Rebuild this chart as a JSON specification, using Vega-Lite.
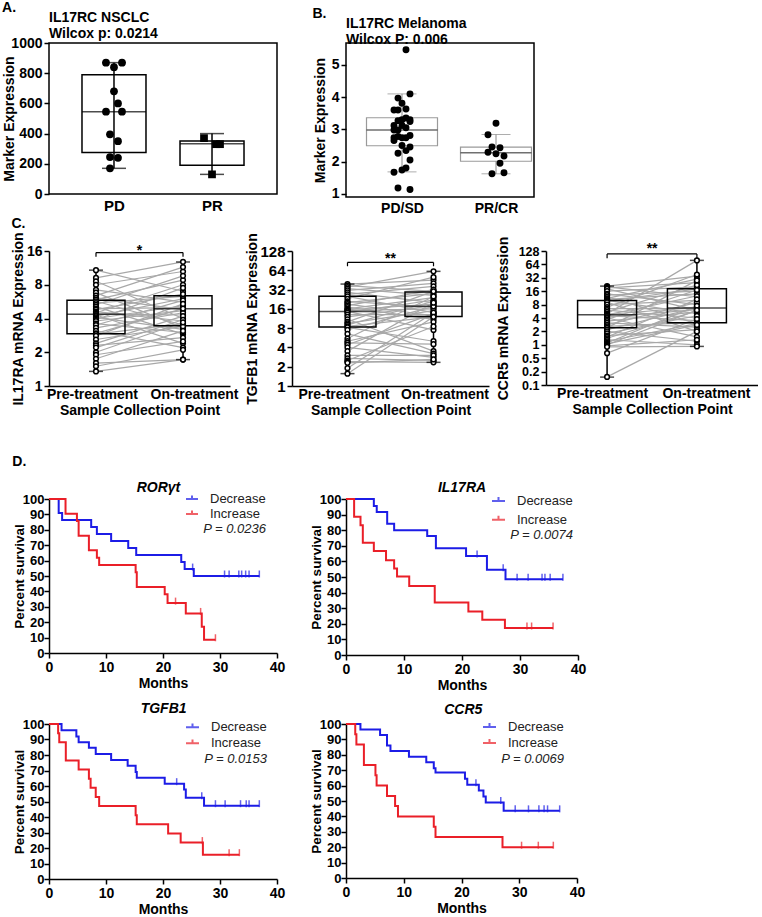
{
"$schema":"https://vega.github.io/schema/vega-lite/v6.json",
"background":"white",
"padding":{"left":2,"top":1,"right":0,"bottom":0},
"config":{
 "font":"Liberation Sans",
 "view":{"stroke":null},
 "axis":{"labelFont":"Liberation Sans","titleFont":"Liberation Sans","labelFontWeight":"bold","titleFontWeight":"bold","labelFontSize":14,"titleFontSize":14,"labelColor":"black","titleColor":"black","domainColor":"black","tickColor":"black","domainWidth":1.5,"tickWidth":1.5,"tickSize":5,"grid":false,"labelPadding":2,"titlePadding":4,"labelOverlap":false,"labelFlush":false},
 "title":{"font":"Liberation Sans","fontSize":14,"fontWeight":"bold","color":"black","subtitleFont":"Liberation Sans","subtitleFontSize":14,"subtitleFontWeight":"bold","subtitleColor":"black","subtitlePadding":2},
 "legend":{"labelFont":"Liberation Sans","titleFont":"Liberation Sans"}
},
"datasets":{
 "A_box":[{"g":"PD","q1":275,"med":545,"q3":790,"lo":170,"hi":870},{"g":"PR","q1":190,"med":333,"q3":351,"lo":130,"hi":400}],
 "A_pts":[{"g":"PD","v":350},{"g":"PD","v":395},{"g":"PD","v":870},{"g":"PD","v":840},{"g":"PD","v":870},{"g":"PD","v":240},{"g":"PD","v":245},{"g":"PD","v":545},{"g":"PD","v":680},{"g":"PD","v":545},{"g":"PD","v":600},{"g":"PD","v":170},{"g":"PR","v":330},{"g":"PR","v":130},{"g":"PR","v":370},{"g":"PR","v":330}],
 "B_box":[{"g":"PD/SD","q1":2.49,"med":2.98,"q3":3.36,"lo":1.68,"hi":4.1},{"g":"PR/CR","q1":2.01,"med":2.27,"q3":2.45,"lo":1.62,"hi":2.84}],
 "B_pts":[{"g":"PD/SD","v":5.47},{"g":"PD/SD","v":3.97},{"g":"PD/SD","v":4.10},{"g":"PD/SD","v":3.81},{"g":"PD/SD","v":3.60},{"g":"PD/SD","v":3.63},{"g":"PD/SD","v":3.60},{"g":"PD/SD","v":3.24},{"g":"PD/SD","v":3.12},{"g":"PD/SD","v":3.12},{"g":"PD/SD","v":3.35},{"g":"PD/SD","v":3.27},{"g":"PD/SD","v":3.30},{"g":"PD/SD","v":3.30},{"g":"PD/SD","v":2.98},{"g":"PD/SD","v":3.05},{"g":"PD/SD","v":2.98},{"g":"PD/SD","v":2.81},{"g":"PD/SD","v":2.74},{"g":"PD/SD","v":2.74},{"g":"PD/SD","v":2.74},{"g":"PD/SD","v":2.78},{"g":"PD/SD","v":2.45},{"g":"PD/SD","v":2.50},{"g":"PD/SD","v":2.65},{"g":"PD/SD","v":2.34},{"g":"PD/SD","v":2.26},{"g":"PD/SD","v":2.05},{"g":"PD/SD","v":1.74},{"g":"PD/SD","v":1.67},{"g":"PD/SD","v":1.80},{"g":"PD/SD","v":1.18},{"g":"PD/SD","v":1.13},{"g":"PR/CR","v":3.19},{"g":"PR/CR","v":2.83},{"g":"PR/CR","v":2.43},{"g":"PR/CR","v":2.45},{"g":"PR/CR","v":2.17},{"g":"PR/CR","v":2.24},{"g":"PR/CR","v":2.29},{"g":"PR/CR","v":1.95},{"g":"PR/CR","v":1.62},{"g":"PR/CR","v":1.65}],
 "C1_box":[{"t":"Pre-treatment","q1":2.93,"med":4.36,"q3":5.81,"lo":1.35,"hi":10.8},{"t":"On-treatment","q1":3.45,"med":4.89,"q3":6.39,"lo":1.72,"hi":12.77}],
 "C2_box":[{"t":"Pre-treatment","q1":8.3,"med":14.6,"q3":25.1,"lo":1.56,"hi":39},{"t":"On-treatment","q1":12.2,"med":17.5,"q3":29.3,"lo":2.34,"hi":61.6}],
 "C3_box":[{"t":"Pre-treatment","q1":2.41,"med":4.72,"q3":9.95,"lo":0.188,"hi":20.8},{"t":"On-treatment","q1":3.12,"med":6.67,"q3":18.1,"lo":0.92,"hi":78.8}],
 "C1":[{"id":1,"Pre-treatment":10.8,"On-treatment":7.0},{"id":2,"Pre-treatment":9.2,"On-treatment":12.8},{"id":3,"Pre-treatment":8.6,"On-treatment":4.0},{"id":4,"Pre-treatment":8.0,"On-treatment":10.5},{"id":5,"Pre-treatment":7.2,"On-treatment":5.6},{"id":6,"Pre-treatment":6.8,"On-treatment":3.3},{"id":7,"Pre-treatment":6.4,"On-treatment":11.5},{"id":8,"Pre-treatment":6.1,"On-treatment":4.8},{"id":9,"Pre-treatment":5.9,"On-treatment":8.8},{"id":10,"Pre-treatment":5.7,"On-treatment":3.5},{"id":11,"Pre-treatment":5.5,"On-treatment":6.3},{"id":12,"Pre-treatment":5.3,"On-treatment":9.6},{"id":13,"Pre-treatment":5.1,"On-treatment":2.9},{"id":14,"Pre-treatment":4.9,"On-treatment":5.0},{"id":15,"Pre-treatment":4.8,"On-treatment":6.6},{"id":16,"Pre-treatment":4.6,"On-treatment":3.8},{"id":17,"Pre-treatment":4.5,"On-treatment":8.0},{"id":18,"Pre-treatment":4.4,"On-treatment":4.3},{"id":19,"Pre-treatment":4.3,"On-treatment":2.4},{"id":20,"Pre-treatment":4.2,"On-treatment":6.0},{"id":21,"Pre-treatment":4.1,"On-treatment":3.2},{"id":22,"Pre-treatment":4.0,"On-treatment":5.2},{"id":23,"Pre-treatment":3.9,"On-treatment":7.5},{"id":24,"Pre-treatment":3.8,"On-treatment":4.7},{"id":25,"Pre-treatment":3.6,"On-treatment":3.0},{"id":26,"Pre-treatment":3.5,"On-treatment":5.8},{"id":27,"Pre-treatment":3.3,"On-treatment":4.5},{"id":28,"Pre-treatment":3.1,"On-treatment":2.2},{"id":29,"Pre-treatment":2.95,"On-treatment":4.9},{"id":30,"Pre-treatment":2.9,"On-treatment":3.6},{"id":31,"Pre-treatment":2.8,"On-treatment":5.4},{"id":32,"Pre-treatment":2.6,"On-treatment":3.4},{"id":33,"Pre-treatment":2.4,"On-treatment":4.2},{"id":34,"Pre-treatment":2.3,"On-treatment":2.7},{"id":35,"Pre-treatment":2.2,"On-treatment":3.9},{"id":36,"Pre-treatment":2.0,"On-treatment":3.7},{"id":37,"Pre-treatment":1.9,"On-treatment":2.5},{"id":38,"Pre-treatment":1.75,"On-treatment":3.1},{"id":39,"Pre-treatment":1.6,"On-treatment":1.72},{"id":40,"Pre-treatment":1.5,"On-treatment":2.1},{"id":41,"Pre-treatment":1.35,"On-treatment":1.72}],
 "C2":[{"id":1,"Pre-treatment":39,"On-treatment":45},{"id":2,"Pre-treatment":37,"On-treatment":30},{"id":3,"Pre-treatment":35,"On-treatment":61.6},{"id":4,"Pre-treatment":33,"On-treatment":26},{"id":5,"Pre-treatment":31,"On-treatment":40},{"id":6,"Pre-treatment":29,"On-treatment":20},{"id":7,"Pre-treatment":27,"On-treatment":36},{"id":8,"Pre-treatment":25,"On-treatment":14},{"id":9,"Pre-treatment":23,"On-treatment":50},{"id":10,"Pre-treatment":21,"On-treatment":17},{"id":11,"Pre-treatment":20,"On-treatment":28},{"id":12,"Pre-treatment":19,"On-treatment":12.5},{"id":13,"Pre-treatment":18,"On-treatment":32},{"id":14,"Pre-treatment":17,"On-treatment":11},{"id":15,"Pre-treatment":16,"On-treatment":24},{"id":16,"Pre-treatment":15.5,"On-treatment":19},{"id":17,"Pre-treatment":15,"On-treatment":16},{"id":18,"Pre-treatment":14.6,"On-treatment":7.5},{"id":19,"Pre-treatment":14,"On-treatment":22},{"id":20,"Pre-treatment":13,"On-treatment":13},{"id":21,"Pre-treatment":12,"On-treatment":18},{"id":22,"Pre-treatment":11,"On-treatment":3.5},{"id":23,"Pre-treatment":10,"On-treatment":30},{"id":24,"Pre-treatment":9.5,"On-treatment":15},{"id":25,"Pre-treatment":9,"On-treatment":21},{"id":26,"Pre-treatment":8.5,"On-treatment":12},{"id":27,"Pre-treatment":8.2,"On-treatment":5},{"id":28,"Pre-treatment":7.5,"On-treatment":17.5},{"id":29,"Pre-treatment":6.5,"On-treatment":3.2},{"id":30,"Pre-treatment":5.5,"On-treatment":25},{"id":31,"Pre-treatment":5.0,"On-treatment":10},{"id":32,"Pre-treatment":4.7,"On-treatment":4.5},{"id":33,"Pre-treatment":4.4,"On-treatment":13.5},{"id":34,"Pre-treatment":4.0,"On-treatment":2.8},{"id":35,"Pre-treatment":3.5,"On-treatment":20},{"id":36,"Pre-treatment":3.0,"On-treatment":3.0},{"id":37,"Pre-treatment":2.7,"On-treatment":2.5},{"id":38,"Pre-treatment":2.5,"On-treatment":8.5},{"id":39,"Pre-treatment":2.4,"On-treatment":2.34},{"id":40,"Pre-treatment":2.3,"On-treatment":2.6},{"id":41,"Pre-treatment":1.9,"On-treatment":14},{"id":42,"Pre-treatment":1.56,"On-treatment":12}],
 "C3":[{"id":1,"Pre-treatment":20.8,"On-treatment":35},{"id":2,"Pre-treatment":20,"On-treatment":12},{"id":3,"Pre-treatment":19,"On-treatment":25},{"id":4,"Pre-treatment":18,"On-treatment":6},{"id":5,"Pre-treatment":16,"On-treatment":20},{"id":6,"Pre-treatment":14,"On-treatment":8},{"id":7,"Pre-treatment":13,"On-treatment":16},{"id":8,"Pre-treatment":12,"On-treatment":3},{"id":9,"Pre-treatment":11,"On-treatment":30},{"id":10,"Pre-treatment":10.5,"On-treatment":14},{"id":11,"Pre-treatment":10,"On-treatment":5},{"id":12,"Pre-treatment":9.5,"On-treatment":18},{"id":13,"Pre-treatment":9,"On-treatment":2},{"id":14,"Pre-treatment":8,"On-treatment":10},{"id":15,"Pre-treatment":7,"On-treatment":38},{"id":16,"Pre-treatment":6.5,"On-treatment":6.5},{"id":17,"Pre-treatment":6,"On-treatment":4},{"id":18,"Pre-treatment":5.5,"On-treatment":22},{"id":19,"Pre-treatment":5,"On-treatment":78.8},{"id":20,"Pre-treatment":4.8,"On-treatment":7},{"id":21,"Pre-treatment":4.7,"On-treatment":12.5},{"id":22,"Pre-treatment":4.5,"On-treatment":3.5},{"id":23,"Pre-treatment":4.2,"On-treatment":6.2},{"id":24,"Pre-treatment":4.0,"On-treatment":1.5},{"id":25,"Pre-treatment":3.7,"On-treatment":17},{"id":26,"Pre-treatment":3.4,"On-treatment":5.5},{"id":27,"Pre-treatment":3.1,"On-treatment":2.5},{"id":28,"Pre-treatment":2.8,"On-treatment":9},{"id":29,"Pre-treatment":2.6,"On-treatment":3.2},{"id":30,"Pre-treatment":2.4,"On-treatment":28},{"id":31,"Pre-treatment":2.2,"On-treatment":6.8},{"id":32,"Pre-treatment":2.0,"On-treatment":1.2},{"id":33,"Pre-treatment":1.8,"On-treatment":4.5},{"id":34,"Pre-treatment":1.6,"On-treatment":2.2},{"id":35,"Pre-treatment":1.5,"On-treatment":10.5},{"id":36,"Pre-treatment":1.4,"On-treatment":5.8},{"id":37,"Pre-treatment":1.3,"On-treatment":1.0},{"id":38,"Pre-treatment":1.2,"On-treatment":3.0},{"id":39,"Pre-treatment":1.1,"On-treatment":7.5},{"id":40,"Pre-treatment":1.05,"On-treatment":2.8},{"id":41,"Pre-treatment":1.0,"On-treatment":6.0},{"id":42,"Pre-treatment":0.95,"On-treatment":1.3},{"id":43,"Pre-treatment":0.9,"On-treatment":0.92},{"id":44,"Pre-treatment":0.65,"On-treatment":3.8},{"id":45,"Pre-treatment":0.19,"On-treatment":2.0}],
 "D1_km":[{"g":"Decrease","m":0,"s":100},{"g":"Decrease","m":1.7,"s":90.9},{"g":"Decrease","m":2.3,"s":86.4},{"g":"Decrease","m":7.4,"s":81.8},{"g":"Decrease","m":8.4,"s":77.3},{"g":"Decrease","m":10.9,"s":72.7},{"g":"Decrease","m":13.9,"s":68.2},{"g":"Decrease","m":15.3,"s":63.6},{"g":"Decrease","m":23.2,"s":59.1},{"g":"Decrease","m":23.8,"s":54.5},{"g":"Decrease","m":25.4,"s":50},{"g":"Decrease","m":36.9,"s":50},
  {"g":"Increase","m":0,"s":100},{"g":"Increase","m":2.9,"s":90.5},{"g":"Increase","m":4.9,"s":85.7},{"g":"Increase","m":5.2,"s":76.2},{"g":"Increase","m":7.0,"s":66.7},{"g":"Increase","m":8.4,"s":61.9},{"g":"Increase","m":8.8,"s":57.1},{"g":"Increase","m":15.2,"s":52.4},{"g":"Increase","m":15.4,"s":42.9},{"g":"Increase","m":20.3,"s":38.1},{"g":"Increase","m":20.8,"s":32.4},{"g":"Increase","m":24.0,"s":25.7},{"g":"Increase","m":26.8,"s":17.1},{"g":"Increase","m":27.2,"s":8.6},{"g":"Increase","m":29.2,"s":8.6}],
 "D1_c":[{"g":"Decrease","m":25.2,"s":54.5},{"g":"Decrease","m":30.8,"s":50},{"g":"Decrease","m":31.6,"s":50},{"g":"Decrease","m":33.3,"s":50},{"g":"Decrease","m":33.8,"s":50},{"g":"Decrease","m":34.5,"s":50},{"g":"Decrease","m":35.1,"s":50},{"g":"Decrease","m":36.9,"s":50},{"g":"Increase","m":22.2,"s":32.4},{"g":"Increase","m":26.6,"s":25.7},{"g":"Increase","m":29.2,"s":8.6}],
 "D2_km":[{"g":"Decrease","m":0,"s":100},{"g":"Decrease","m":4.8,"s":95.5},{"g":"Decrease","m":5.3,"s":91.7},{"g":"Decrease","m":7.1,"s":84.2},{"g":"Decrease","m":8.3,"s":80},{"g":"Decrease","m":14.0,"s":76.3},{"g":"Decrease","m":15.5,"s":68.5},{"g":"Decrease","m":20.7,"s":63.5},{"g":"Decrease","m":24.3,"s":54.6},{"g":"Decrease","m":27.5,"s":48.6},{"g":"Decrease","m":37.4,"s":48.6},
  {"g":"Increase","m":0,"s":100},{"g":"Increase","m":1.4,"s":88.7},{"g":"Increase","m":2.5,"s":83.2},{"g":"Increase","m":2.9,"s":72},{"g":"Increase","m":4.8,"s":66.7},{"g":"Increase","m":6.9,"s":60.8},{"g":"Increase","m":8.3,"s":55.4},{"g":"Increase","m":8.8,"s":50.3},{"g":"Increase","m":10.9,"s":44.3},{"g":"Increase","m":15.3,"s":33.7},{"g":"Increase","m":21.1,"s":27.9},{"g":"Increase","m":23.5,"s":22.6},{"g":"Increase","m":27.4,"s":17.3},{"g":"Increase","m":35.7,"s":17.3}],
 "D2_c":[{"g":"Decrease","m":22.6,"s":63.5},{"g":"Decrease","m":27.1,"s":54.6},{"g":"Decrease","m":29.5,"s":48.6},{"g":"Decrease","m":31.4,"s":48.6},{"g":"Decrease","m":33.8,"s":48.6},{"g":"Decrease","m":34.3,"s":48.6},{"g":"Decrease","m":35.2,"s":48.6},{"g":"Decrease","m":37.4,"s":48.6},{"g":"Increase","m":31.2,"s":17.3},{"g":"Increase","m":32.0,"s":17.3},{"g":"Increase","m":35.7,"s":17.3}],
 "D3_km":[{"g":"Decrease","m":0,"s":100},{"g":"Decrease","m":2.2,"s":95.9},{"g":"Decrease","m":4.8,"s":92},{"g":"Decrease","m":5.2,"s":88.2},{"g":"Decrease","m":7.0,"s":84.6},{"g":"Decrease","m":8.2,"s":80.6},{"g":"Decrease","m":10.9,"s":76.8},{"g":"Decrease","m":13.8,"s":73},{"g":"Decrease","m":15.2,"s":69},{"g":"Decrease","m":15.4,"s":65.4},{"g":"Decrease","m":20.3,"s":61.5},{"g":"Decrease","m":23.7,"s":57.8},{"g":"Decrease","m":24.0,"s":52.5},{"g":"Decrease","m":27.2,"s":47.3},{"g":"Decrease","m":36.9,"s":47.3},
  {"g":"Increase","m":0,"s":100},{"g":"Increase","m":1.6,"s":94},{"g":"Increase","m":1.8,"s":88.2},{"g":"Increase","m":2.95,"s":76.5},{"g":"Increase","m":5.2,"s":70.6},{"g":"Increase","m":7.0,"s":64.7},{"g":"Increase","m":7.3,"s":58.8},{"g":"Increase","m":8.2,"s":52.9},{"g":"Increase","m":8.8,"s":47.1},{"g":"Increase","m":15.2,"s":41.2},{"g":"Increase","m":15.4,"s":35.3},{"g":"Increase","m":20.9,"s":29.4},{"g":"Increase","m":23.1,"s":23.5},{"g":"Increase","m":27.0,"s":15.7},{"g":"Increase","m":33.4,"s":15.7}],
 "D3_c":[{"g":"Decrease","m":22.4,"s":61.5},{"g":"Decrease","m":26.8,"s":52.5},{"g":"Decrease","m":29.2,"s":47.3},{"g":"Decrease","m":30.9,"s":47.3},{"g":"Decrease","m":33.6,"s":47.3},{"g":"Decrease","m":34.6,"s":47.3},{"g":"Decrease","m":35.1,"s":47.3},{"g":"Decrease","m":36.9,"s":47.3},{"g":"Increase","m":26.9,"s":23.5},{"g":"Increase","m":31.6,"s":15.7},{"g":"Increase","m":33.4,"s":15.7}],
 "D4_km":[{"g":"Decrease","m":0,"s":100},{"g":"Decrease","m":2.5,"s":96.5},{"g":"Decrease","m":5.9,"s":92.9},{"g":"Decrease","m":7.1,"s":86},{"g":"Decrease","m":7.7,"s":82.5},{"g":"Decrease","m":10.9,"s":78.8},{"g":"Decrease","m":13.9,"s":75.2},{"g":"Decrease","m":15.2,"s":71.3},{"g":"Decrease","m":15.5,"s":68.5},{"g":"Decrease","m":20.6,"s":64.4},{"g":"Decrease","m":21.0,"s":60.5},{"g":"Decrease","m":23.0,"s":56.8},{"g":"Decrease","m":23.8,"s":52.9},{"g":"Decrease","m":24.2,"s":49},{"g":"Decrease","m":27.3,"s":43.6},{"g":"Decrease","m":37.0,"s":43.6},
  {"g":"Increase","m":0,"s":100},{"g":"Increase","m":1.6,"s":93.3},{"g":"Increase","m":1.8,"s":86.7},{"g":"Increase","m":3.1,"s":73.3},{"g":"Increase","m":5.1,"s":66.7},{"g":"Increase","m":5.3,"s":60},{"g":"Increase","m":7.1,"s":53.3},{"g":"Increase","m":8.5,"s":46.7},{"g":"Increase","m":9.0,"s":40},{"g":"Increase","m":15.2,"s":33.3},{"g":"Increase","m":15.5,"s":26.7},{"g":"Increase","m":27.1,"s":20},{"g":"Increase","m":35.9,"s":20}],
 "D4_c":[{"g":"Decrease","m":22.5,"s":60.5},{"g":"Decrease","m":26.8,"s":49},{"g":"Decrease","m":29.3,"s":43.6},{"g":"Decrease","m":31.6,"s":43.6},{"g":"Decrease","m":33.4,"s":43.6},{"g":"Decrease","m":34.3,"s":43.6},{"g":"Decrease","m":34.9,"s":43.6},{"g":"Decrease","m":37.0,"s":43.6},{"g":"Increase","m":30.4,"s":20},{"g":"Increase","m":33.3,"s":20},{"g":"Increase","m":35.9,"s":20}]
},
"columns":1,"align":"none","spacing":38,
"resolve":{"scale":{"color":"independent","x":"independent","y":"independent"},"legend":{"color":"independent"}},
"concat":[
 {"columns":1,"align":"none","spacing":1,
  "concat":[
  {"columns":2,"align":{"row":"all","column":"none"},"spacing":34,"concat":[
   {"title":{"text":"A.","anchor":"start","frame":"bounds","offset":-5},
    "vconcat":[{
     "width":228,"height":151,
     "view":{"stroke":"black","strokeWidth":1.5},
     "title":{"text":"IL17RC NSCLC","subtitle":"Wilcox p: 0.0214","anchor":"start","frame":"group","offset":-5},
     "layer":[
      {"data":{"name":"A_box"},"mark":{"type":"bar","width":64,"fill":"white","stroke":"black","strokeWidth":1.5},
       "encoding":{"x":{"field":"g","type":"nominal","scale":{"type":"point","domain":["PD","PR"],"padding":0.663},"axis":{"title":null,"ticks":false,"domain":false,"labelAngle":0,"labelFontSize":15,"labelPadding":4}},
        "y":{"field":"q1","type":"quantitative","scale":{"domain":[0,1000],"nice":false},"axis":{"title":"Marker Expression","values":[0,200,400,600,800,1000],"tickCount":20,"format":"d","domain":false,"titlePadding":-6}},"y2":{"field":"q3"}}},
      {"data":{"name":"A_box"},"mark":{"type":"tick","size":64,"thickness":1.5,"color":"black"},"encoding":{"x":{"field":"g","type":"nominal"},"y":{"field":"med","type":"quantitative"}}},
      {"data":{"name":"A_box"},"mark":{"type":"rule","color":"black","strokeWidth":1.5},"encoding":{"x":{"field":"g","type":"nominal"},"y":{"field":"lo","type":"quantitative"},"y2":{"field":"hi"}}},
      {"data":{"name":"A_box"},"mark":{"type":"tick","size":24,"thickness":1.5,"color":"black"},"encoding":{"x":{"field":"g","type":"nominal"},"y":{"field":"lo","type":"quantitative"}}},
      {"data":{"name":"A_box"},"mark":{"type":"tick","size":24,"thickness":1.5,"color":"black"},"encoding":{"x":{"field":"g","type":"nominal"},"y":{"field":"hi","type":"quantitative"}}},
      {"data":{"name":"A_pts"},"transform":[{"window":[{"op":"row_number","as":"rn"}]},{"calculate":"((datum.rn*3)%5)-2","as":"jit"}],
       "mark":{"type":"point","filled":true,"color":"black","size":60,"opacity":1},
       "encoding":{"x":{"field":"g","type":"nominal"},"xOffset":{"field":"jit","type":"quantitative","scale":{"domain":[-2,2],"range":[-8,8]}},"y":{"field":"v","type":"quantitative"},"shape":{"field":"g","type":"nominal","scale":{"domain":["PD","PR"],"range":["circle","square"]},"legend":null}}}
     ]}]},
   {"title":{"text":"B.","anchor":"start","frame":"bounds","offset":-5},
    "vconcat":[{
     "width":188,"height":154,
     "view":{"stroke":"black","strokeWidth":1.5},
     "title":{"text":"IL17RC Melanoma","subtitle":"Wilcox P: 0.006","anchor":"start","frame":"group","offset":-4},
     "layer":[
      {"data":{"name":"B_box"},"mark":{"type":"bar","width":71,"fill":"white","stroke":"#9a9a9a","strokeWidth":1.2},
       "encoding":{"x":{"field":"g","type":"nominal","scale":{"type":"point","domain":["PD/SD","PR/CR"],"range":[56,150],"padding":0},"axis":{"title":null,"ticks":false,"domain":false,"labelAngle":0,"labelPadding":4}},
        "y":{"field":"q1","type":"quantitative","scale":{"domain":[0.9,5.68],"nice":false,"zero":false},"axis":{"title":"Marker Expression","values":[1,2,3,4,5],"tickCount":20,"format":"d","domain":false}},"y2":{"field":"q3"}}},
      {"data":{"name":"B_box"},"mark":{"type":"tick","size":71,"thickness":1.5,"color":"#333333"},"encoding":{"x":{"field":"g","type":"nominal"},"y":{"field":"med","type":"quantitative"}}},
      {"data":{"name":"B_box"},"mark":{"type":"rule","color":"#8a8a8a","strokeWidth":1},"encoding":{"x":{"field":"g","type":"nominal"},"y":{"field":"lo","type":"quantitative"},"y2":{"field":"q1"}}},
      {"data":{"name":"B_box"},"mark":{"type":"rule","color":"#8a8a8a","strokeWidth":1},"encoding":{"x":{"field":"g","type":"nominal"},"y":{"field":"q3","type":"quantitative"},"y2":{"field":"hi"}}},
      {"data":{"name":"B_box"},"mark":{"type":"tick","size":29,"thickness":1,"color":"#8a8a8a"},"encoding":{"x":{"field":"g","type":"nominal"},"y":{"field":"lo","type":"quantitative"}}},
      {"data":{"name":"B_box"},"mark":{"type":"tick","size":29,"thickness":1,"color":"#8a8a8a"},"encoding":{"x":{"field":"g","type":"nominal"},"y":{"field":"hi","type":"quantitative"}}},
      {"data":{"name":"B_pts"},"transform":[{"window":[{"op":"row_number","as":"rn"}]},{"calculate":"((datum.rn*3)%5)-2","as":"jit"}],
       "mark":{"type":"circle","color":"black","size":48,"opacity":1},
       "encoding":{"x":{"field":"g","type":"nominal"},"xOffset":{"field":"jit","type":"quantitative","scale":{"domain":[-2,2],"range":[-20,20]}},"y":{"field":"v","type":"quantitative"}}}
     ]}]}
  ]},
  {"title":{"text":"C.","anchor":"start","frame":"bounds","offset":0},
   "vconcat":[
   {"columns":3,"align":{"row":"all","column":"none"},"spacing":7,
   "concat":[
    {"width":181,"height":135,
     "layer":[
      {"data":{"name":"C1_box"},"mark":{"type":"bar","width":58,"fill":"white"},
       "encoding":{"x":{"field":"t","type":"nominal","scale":{"type":"point","domain":["Pre-treatment","On-treatment"],"padding":0.54},"axis":{"title":"Sample Collection Point","ticks":false,"labelAngle":0,"titlePadding":2,"labelPadding":1,"labelOffset":{"condition":{"test":"datum.value === 'On-treatment'","value":11},"value":-4}}},
        "y":{"field":"q1","type":"quantitative","scale":{"type":"log","base":2,"domain":[1,16]},"axis":{"title":"IL17RA mRNA Expression","values":[1,2,4,8,16],"tickCount":20,"titlePadding":1}},"y2":{"field":"q3"}}},
      {"data":{"name":"C1"},"transform":[{"fold":["Pre-treatment","On-treatment"],"as":["t","v"]}],"mark":{"type":"line","color":"#a8a8a8","strokeWidth":1.2},"encoding":{"x":{"field":"t","type":"nominal"},"y":{"field":"v","type":"quantitative"},"detail":{"field":"id","type":"nominal"}}},
      {"data":{"name":"C1_box"},"mark":{"type":"bar","width":58,"fill":"white","fillOpacity":0,"stroke":"black","strokeWidth":1.5},"encoding":{"x":{"field":"t","type":"nominal"},"y":{"field":"q1","type":"quantitative"},"y2":{"field":"q3"}}},
      {"data":{"name":"C1_box"},"mark":{"type":"tick","size":58,"thickness":1.5,"color":"black"},"encoding":{"x":{"field":"t","type":"nominal"},"y":{"field":"med","type":"quantitative"}}},
      {"data":{"name":"C1_box"},"mark":{"type":"rule","color":"black","strokeWidth":1.5},"encoding":{"x":{"field":"t","type":"nominal"},"y":{"field":"lo","type":"quantitative"},"y2":{"field":"hi"}}},
      {"data":{"name":"C1_box"},"mark":{"type":"tick","size":14,"thickness":1.5,"color":"black"},"encoding":{"x":{"field":"t","type":"nominal"},"y":{"field":"lo","type":"quantitative"}}},
      {"data":{"name":"C1_box"},"mark":{"type":"tick","size":14,"thickness":1.5,"color":"black"},"encoding":{"x":{"field":"t","type":"nominal"},"y":{"field":"hi","type":"quantitative"}}},
      {"data":{"name":"C1"},"transform":[{"fold":["Pre-treatment","On-treatment"],"as":["t","v"]}],"mark":{"type":"point","filled":false,"fill":"white","stroke":"black","strokeWidth":1.5,"size":22,"opacity":1},"encoding":{"x":{"field":"t","type":"nominal"},"y":{"field":"v","type":"quantitative"}}},
      {"data":{"values":[{}]},"mark":{"type":"rule","color":"black","strokeWidth":1.2},"encoding":{"x":{"datum":"Pre-treatment"},"x2":{"datum":"On-treatment"},"y":{"datum":15.5}}},
      {"data":{"values":[{}]},"mark":{"type":"rule","color":"black","strokeWidth":1.2},"encoding":{"x":{"datum":"Pre-treatment"},"y":{"datum":15.5},"y2":{"datum":14.2}}},
      {"data":{"values":[{}]},"mark":{"type":"rule","color":"black","strokeWidth":1.2},"encoding":{"x":{"datum":"On-treatment"},"y":{"datum":15.5},"y2":{"datum":14.2}}},
      {"data":{"values":[{}]},"mark":{"type":"text","text":"*","fontSize":14,"fontWeight":"bold","baseline":"alphabetic","dx":43.5,"dy":2,"color":"black"},"encoding":{"x":{"datum":"Pre-treatment"},"y":{"datum":15.5}}}
     ]},
    {"width":197,"height":135,
     "layer":[
      {"data":{"name":"C2_box"},"mark":{"type":"bar","width":57,"fill":"white"},
       "encoding":{"x":{"field":"t","type":"nominal","scale":{"type":"point","domain":["Pre-treatment","On-treatment"],"padding":0.645},"axis":{"title":"Sample Collection Point","ticks":false,"labelAngle":0,"titlePadding":2,"labelPadding":1,"labelOffset":{"condition":{"test":"datum.value === 'On-treatment'","value":11},"value":-4}}},
        "y":{"field":"q1","type":"quantitative","scale":{"type":"log","base":2,"domain":[1,128]},"axis":{"title":"TGFB1 mRNA Expression","values":[1,2,4,8,16,32,64,128],"tickCount":20,"labelFontSize":15,"titlePadding":0}},"y2":{"field":"q3"}}},
      {"data":{"name":"C2"},"transform":[{"fold":["Pre-treatment","On-treatment"],"as":["t","v"]}],"mark":{"type":"line","color":"#a8a8a8","strokeWidth":1.2},"encoding":{"x":{"field":"t","type":"nominal"},"y":{"field":"v","type":"quantitative"},"detail":{"field":"id","type":"nominal"}}},
      {"data":{"name":"C2_box"},"mark":{"type":"bar","width":57,"fill":"white","fillOpacity":0,"stroke":"black","strokeWidth":1.5},"encoding":{"x":{"field":"t","type":"nominal"},"y":{"field":"q1","type":"quantitative"},"y2":{"field":"q3"}}},
      {"data":{"name":"C2_box"},"mark":{"type":"tick","size":57,"thickness":1.5,"color":"black"},"encoding":{"x":{"field":"t","type":"nominal"},"y":{"field":"med","type":"quantitative"}}},
      {"data":{"name":"C2_box"},"mark":{"type":"rule","color":"black","strokeWidth":1.5},"encoding":{"x":{"field":"t","type":"nominal"},"y":{"field":"lo","type":"quantitative"},"y2":{"field":"hi"}}},
      {"data":{"name":"C2_box"},"mark":{"type":"tick","size":14,"thickness":1.5,"color":"black"},"encoding":{"x":{"field":"t","type":"nominal"},"y":{"field":"lo","type":"quantitative"}}},
      {"data":{"name":"C2_box"},"mark":{"type":"tick","size":14,"thickness":1.5,"color":"black"},"encoding":{"x":{"field":"t","type":"nominal"},"y":{"field":"hi","type":"quantitative"}}},
      {"data":{"name":"C2"},"transform":[{"fold":["Pre-treatment","On-treatment"],"as":["t","v"]}],"mark":{"type":"point","filled":false,"fill":"white","stroke":"black","strokeWidth":1.5,"size":22,"opacity":1},"encoding":{"x":{"field":"t","type":"nominal"},"y":{"field":"v","type":"quantitative"}}},
      {"data":{"values":[{}]},"mark":{"type":"rule","color":"black","strokeWidth":1.2},"encoding":{"x":{"datum":"Pre-treatment"},"x2":{"datum":"On-treatment"},"y":{"datum":85}}},
      {"data":{"values":[{}]},"mark":{"type":"rule","color":"black","strokeWidth":1.2},"encoding":{"x":{"datum":"Pre-treatment"},"y":{"datum":85},"y2":{"datum":74}}},
      {"data":{"values":[{}]},"mark":{"type":"rule","color":"black","strokeWidth":1.2},"encoding":{"x":{"datum":"On-treatment"},"y":{"datum":85},"y2":{"datum":74}}},
      {"data":{"values":[{}]},"mark":{"type":"text","text":"**","fontSize":14,"fontWeight":"bold","baseline":"alphabetic","dx":43,"dy":1,"color":"black"},"encoding":{"x":{"datum":"Pre-treatment"},"y":{"datum":85}}}
     ]},
    {"width":212,"height":134,
     "layer":[
      {"data":{"name":"C3_box"},"mark":{"type":"bar","width":59,"fill":"white"},
       "encoding":{"x":{"field":"t","type":"nominal","scale":{"type":"point","domain":["Pre-treatment","On-treatment"],"padding":0.68},"axis":{"title":"Sample Collection Point","ticks":false,"labelAngle":0,"titlePadding":2,"labelPadding":1,"labelOffset":{"condition":{"test":"datum.value === 'On-treatment'","value":9},"value":-5}}},
        "y":{"field":"q1","type":"quantitative","scale":{"type":"log","base":2,"domain":[0.125,128]},"axis":{"title":"CCR5 mRNA Expression","values":[0.125,0.25,0.5,1,2,4,8,16,32,64,128],"tickCount":20,"labelFontSize":12.5,"titlePadding":8,"labelExpr":"datum.value < 0.2 ? '0.1' : datum.value < 0.3 ? '0.2' : datum.label"}},"y2":{"field":"q3"}}},
      {"data":{"name":"C3"},"transform":[{"fold":["Pre-treatment","On-treatment"],"as":["t","v"]}],"mark":{"type":"line","color":"#a8a8a8","strokeWidth":1.2},"encoding":{"x":{"field":"t","type":"nominal"},"y":{"field":"v","type":"quantitative"},"detail":{"field":"id","type":"nominal"}}},
      {"data":{"name":"C3_box"},"mark":{"type":"bar","width":59,"fill":"white","fillOpacity":0,"stroke":"black","strokeWidth":1.5},"encoding":{"x":{"field":"t","type":"nominal"},"y":{"field":"q1","type":"quantitative"},"y2":{"field":"q3"}}},
      {"data":{"name":"C3_box"},"mark":{"type":"tick","size":59,"thickness":1.5,"color":"black"},"encoding":{"x":{"field":"t","type":"nominal"},"y":{"field":"med","type":"quantitative"}}},
      {"data":{"name":"C3_box"},"mark":{"type":"rule","color":"black","strokeWidth":1.5},"encoding":{"x":{"field":"t","type":"nominal"},"y":{"field":"lo","type":"quantitative"},"y2":{"field":"hi"}}},
      {"data":{"name":"C3_box"},"mark":{"type":"tick","size":14,"thickness":1.5,"color":"black"},"encoding":{"x":{"field":"t","type":"nominal"},"y":{"field":"lo","type":"quantitative"}}},
      {"data":{"name":"C3_box"},"mark":{"type":"tick","size":14,"thickness":1.5,"color":"black"},"encoding":{"x":{"field":"t","type":"nominal"},"y":{"field":"hi","type":"quantitative"}}},
      {"data":{"name":"C3"},"transform":[{"fold":["Pre-treatment","On-treatment"],"as":["t","v"]}],"mark":{"type":"point","filled":false,"fill":"white","stroke":"black","strokeWidth":1.5,"size":22,"opacity":1},"encoding":{"x":{"field":"t","type":"nominal"},"y":{"field":"v","type":"quantitative"}}},
      {"data":{"values":[{}]},"mark":{"type":"rule","color":"black","strokeWidth":1.2},"encoding":{"x":{"datum":"Pre-treatment"},"x2":{"datum":"On-treatment"},"y":{"datum":110}}},
      {"data":{"values":[{}]},"mark":{"type":"rule","color":"black","strokeWidth":1.2},"encoding":{"x":{"datum":"Pre-treatment"},"y":{"datum":110},"y2":{"datum":88}}},
      {"data":{"values":[{}]},"mark":{"type":"rule","color":"black","strokeWidth":1.2},"encoding":{"x":{"datum":"On-treatment"},"y":{"datum":110},"y2":{"datum":88}}},
      {"data":{"values":[{}]},"mark":{"type":"text","text":"**","fontSize":14,"fontWeight":"bold","baseline":"alphabetic","dx":45,"dy":-1,"color":"black"},"encoding":{"x":{"datum":"Pre-treatment"},"y":{"datum":110}}}
     ]}
   ]}]}
 ]},
 {"columns":1,"align":"none","spacing":9,
  "resolve":{"scale":{"color":"independent"},"legend":{"color":"independent"}},
  "concat":[
  {"title":{"text":"D.","anchor":"start","frame":"bounds","offset":12},
   "resolve":{"scale":{"color":"independent"},"legend":{"color":"independent"}},
   "vconcat":[
   {"columns":2,"align":{"row":"all","column":"none"},"spacing":24,
   "resolve":{"scale":{"color":"independent"},"legend":{"color":"independent"}},
   "concat":[
    {"width":228,"height":154,
     "layer":[
      {"data":{"name":"D1_km"},"mark":{"type":"line","interpolate":"step-after","strokeWidth":2},
       "encoding":{"x":{"field":"m","type":"quantitative","scale":{"domain":[0,40]},"axis":{"title":"Months","values":[0,10,20,30,40],"tickCount":20,"format":"d","titlePadding":2}},
        "y":{"field":"s","type":"quantitative","scale":{"domain":[0,100]},"axis":{"title":"Percent survival","values":[0,10,20,30,40,50,60,70,80,90,100],"tickCount":20,"format":"d","labelFontSize":13,"titleFontSize":13.5,"labelPadding":0,"titlePadding":-4}},
        "color":{"field":"g","type":"nominal","scale":{"domain":["Decrease","Increase"],"range":["#1c1ce6","#ea1f28"]},
         "legend":{"title":"P = 0.0236","orient":"none","legendX":136,"legendY":-7,"titleOrient":"bottom","titleFontStyle":"italic","titleFontWeight":"normal","titleFontSize":13,"titleAnchor":"end","titleColor":"#222","labelFontSize":13,"labelColor":"#222","symbolType":"M-1,0H1M0,0V-0.6","symbolSize":144,"symbolStrokeWidth":2,"rowPadding":0,"labelOffset":11,"titlePadding":2}}}},
      {"data":{"name":"D1_c"},"mark":{"type":"tick","orient":"vertical","size":7,"thickness":1.5,"yOffset":-2},"encoding":{"x":{"field":"m","type":"quantitative"},"y":{"field":"s","type":"quantitative"},"color":{"field":"g","type":"nominal"}}},
      {"data":{"values":[{}]},"mark":{"type":"text","text":"RORγt","fontSize":14,"fontWeight":"bold","fontStyle":"italic","color":"black"},"encoding":{"x":{"datum":19.2},"y":{"datum":107}}}
     ]},
    {"width":232,"height":156,
     "layer":[
      {"data":{"name":"D2_km"},"mark":{"type":"line","interpolate":"step-after","strokeWidth":2},
       "encoding":{"x":{"field":"m","type":"quantitative","scale":{"domain":[0,40]},"axis":{"title":"Months","values":[0,10,20,30,40],"tickCount":20,"format":"d","titlePadding":2}},
        "y":{"field":"s","type":"quantitative","scale":{"domain":[0,100]},"axis":{"title":"Percent survival","values":[0,10,20,30,40,50,60,70,80,90,100],"tickCount":20,"format":"d","labelFontSize":13,"titleFontSize":13.5,"labelPadding":0,"titlePadding":-4}},
        "color":{"field":"g","type":"nominal","scale":{"domain":["Decrease","Increase"],"range":["#1c1ce6","#ea1f28"]},
         "legend":{"title":"P = 0.0074","orient":"none","legendX":145,"legendY":-5.5,"titleOrient":"bottom","titleFontStyle":"italic","titleFontWeight":"normal","titleFontSize":13,"titleAnchor":"end","titleColor":"#222","labelFontSize":13,"labelColor":"#222","symbolType":"M-1,0H1M0,0V-0.6","symbolSize":169,"symbolStrokeWidth":2,"rowPadding":2.7,"labelOffset":11,"titlePadding":2}}}},
      {"data":{"name":"D2_c"},"mark":{"type":"tick","orient":"vertical","size":7,"thickness":1.5,"yOffset":-2},"encoding":{"x":{"field":"m","type":"quantitative"},"y":{"field":"s","type":"quantitative"},"color":{"field":"g","type":"nominal"}}},
      {"data":{"values":[{}]},"mark":{"type":"text","text":"IL17RA","fontSize":14,"fontWeight":"bold","fontStyle":"italic","color":"black"},"encoding":{"x":{"datum":20},"y":{"datum":107}}}
     ]}
   ]}]},
  {"columns":2,"align":{"row":"all","column":"none"},"spacing":24,
   "resolve":{"scale":{"color":"independent"},"legend":{"color":"independent"}},
   "concat":[
    {"width":228,"height":155,
     "layer":[
      {"data":{"name":"D3_km"},"mark":{"type":"line","interpolate":"step-after","strokeWidth":2},
       "encoding":{"x":{"field":"m","type":"quantitative","scale":{"domain":[0,40]},"axis":{"title":"Months","values":[0,10,20,30,40],"tickCount":20,"format":"d","titlePadding":2}},
        "y":{"field":"s","type":"quantitative","scale":{"domain":[0,100]},"axis":{"title":"Percent survival","values":[0,10,20,30,40,50,60,70,80,90,100],"tickCount":20,"format":"d","labelFontSize":13,"titleFontSize":13.5,"labelPadding":0,"titlePadding":-4}},
        "color":{"field":"g","type":"nominal","scale":{"domain":["Decrease","Increase"],"range":["#1c1ce6","#ea1f28"]},
         "legend":{"title":"P = 0.0153","orient":"none","legendX":136,"legendY":-4.2,"titleOrient":"bottom","titleFontStyle":"italic","titleFontWeight":"normal","titleFontSize":13,"titleAnchor":"end","titleColor":"#222","labelFontSize":13,"labelColor":"#222","symbolType":"M-1,0H1M0,0V-0.6","symbolSize":169,"symbolStrokeWidth":2,"rowPadding":0,"labelOffset":11,"titlePadding":2}}}},
      {"data":{"name":"D3_c"},"mark":{"type":"tick","orient":"vertical","size":7,"thickness":1.5,"yOffset":-2},"encoding":{"x":{"field":"m","type":"quantitative"},"y":{"field":"s","type":"quantitative"},"color":{"field":"g","type":"nominal"}}},
      {"data":{"values":[{}]},"mark":{"type":"text","text":"TGFB1","fontSize":14,"fontWeight":"bold","fontStyle":"italic","color":"black"},"encoding":{"x":{"datum":20.1},"y":{"datum":109.7}}}
     ]},
    {"width":231,"height":154,
     "layer":[
      {"data":{"name":"D4_km"},"mark":{"type":"line","interpolate":"step-after","strokeWidth":2},
       "encoding":{"x":{"field":"m","type":"quantitative","scale":{"domain":[0,40]},"axis":{"title":"Months","values":[0,10,20,30,40],"tickCount":20,"format":"d","titlePadding":2}},
        "y":{"field":"s","type":"quantitative","scale":{"domain":[0,100]},"axis":{"title":"Percent survival","values":[0,10,20,30,40,50,60,70,80,90,100],"tickCount":20,"format":"d","labelFontSize":13,"titleFontSize":13.5,"labelPadding":0,"titlePadding":-4}},
        "color":{"field":"g","type":"nominal","scale":{"domain":["Decrease","Increase"],"range":["#1c1ce6","#ea1f28"]},
         "legend":{"title":"P = 0.0069","orient":"none","legendX":136,"legendY":-4.5,"titleOrient":"bottom","titleFontStyle":"italic","titleFontWeight":"normal","titleFontSize":13,"titleAnchor":"end","titleColor":"#222","labelFontSize":13,"labelColor":"#222","symbolType":"M-1,0H1M0,0V-0.6","symbolSize":169,"symbolStrokeWidth":2,"rowPadding":0,"labelOffset":11,"titlePadding":2}}}},
      {"data":{"name":"D4_c"},"mark":{"type":"tick","orient":"vertical","size":7,"thickness":1.5,"yOffset":-2},"encoding":{"x":{"field":"m","type":"quantitative"},"y":{"field":"s","type":"quantitative"},"color":{"field":"g","type":"nominal"}}},
      {"data":{"values":[{}]},"mark":{"type":"text","text":"CCR5","fontSize":14,"fontWeight":"bold","fontStyle":"italic","color":"black"},"encoding":{"x":{"datum":20.3},"y":{"datum":109}}}
     ]}
   ]}
 ]}
]
}
